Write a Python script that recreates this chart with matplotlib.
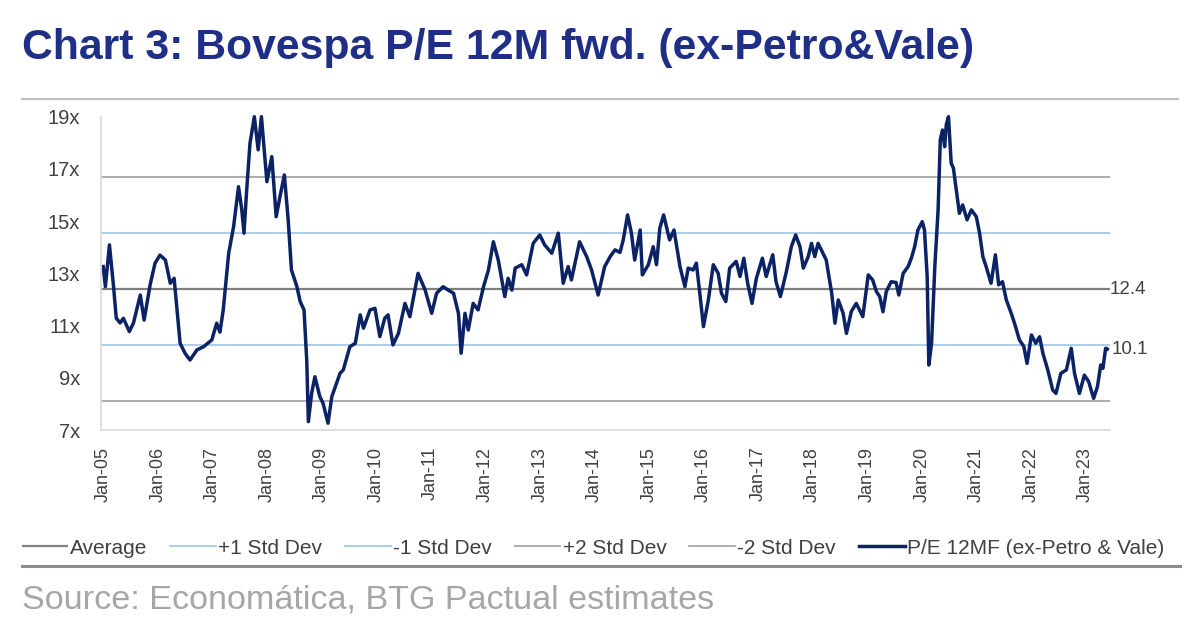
import matplotlib
matplotlib.use("Agg")
import matplotlib.pyplot as plt
from matplotlib.lines import Line2D

plt.rcParams['font.family'] = ['Liberation Sans', 'DejaVu Sans']

# ---- data (years since Jan-2005, P/E value) ----
years = [0.00, 0.04, 0.115, 0.19, 0.24, 0.31, 0.37, 0.48, 0.555, 0.68, 0.75, 0.86, 0.95,
         1.04, 1.14, 1.23, 1.30, 1.41, 1.50, 1.59, 1.72, 1.84, 1.99,
         2.08, 2.14, 2.20, 2.30, 2.39, 2.48, 2.54, 2.58, 2.63, 2.69, 2.77, 2.84, 2.90,
         3.00, 3.09, 3.17, 3.24, 3.32, 3.39, 3.45, 3.55, 3.61, 3.68, 3.73, 3.76, 3.82, 3.88, 3.97,
         4.03, 4.12, 4.19, 4.34, 4.40, 4.52, 4.62, 4.71, 4.77, 4.89, 4.98,
         5.07, 5.16, 5.22, 5.31, 5.41, 5.53, 5.62, 5.77, 5.90,
         6.02, 6.11, 6.23, 6.32, 6.42, 6.51, 6.56, 6.63, 6.69, 6.78, 6.87, 6.97,
         7.06, 7.15, 7.24, 7.36, 7.42, 7.49, 7.55, 7.67, 7.76, 7.88,
         8.00, 8.09, 8.22, 8.34, 8.43, 8.52, 8.58, 8.73, 8.86, 8.95,
         9.07, 9.19, 9.29, 9.38, 9.47, 9.53, 9.61, 9.68, 9.74, 9.84, 9.88, 9.99,
         10.08, 10.14, 10.20, 10.27, 10.38, 10.46, 10.57, 10.66, 10.72, 10.81, 10.87, 10.93,
         11.00, 11.09, 11.18, 11.27, 11.33, 11.41, 11.48, 11.60, 11.67, 11.74, 11.81, 11.89, 11.97,
         12.08, 12.15, 12.27, 12.33, 12.41, 12.52, 12.61, 12.69, 12.77, 12.83, 12.92, 12.98,
         13.04, 13.10, 13.16, 13.25, 13.35, 13.41, 13.47, 13.56, 13.62, 13.71, 13.80, 13.86, 13.92,
         14.02, 14.10, 14.17, 14.23, 14.29, 14.35, 14.44, 14.53, 14.58, 14.66, 14.75, 14.81, 14.87, 14.93,
         15.01, 15.05, 15.10, 15.13, 15.18, 15.24, 15.30, 15.34, 15.38, 15.42, 15.45, 15.49, 15.54,
         15.58, 15.64, 15.69, 15.75, 15.83, 15.91,
         16.00, 16.06, 16.12, 16.18, 16.27, 16.35, 16.41, 16.48, 16.55, 16.63, 16.70, 16.79, 16.87, 16.93,
         17.01, 17.09, 17.16, 17.22, 17.31, 17.40, 17.46, 17.55, 17.65, 17.74, 17.80, 17.89, 17.98,
         18.06, 18.15, 18.22, 18.28, 18.32, 18.37, 18.40]
pe_values = [13.26, 12.49, 14.09, 12.49, 11.28, 11.10, 11.28, 10.77, 11.10, 12.17, 11.21, 12.56, 13.39,
             13.70, 13.51, 12.62, 12.81, 10.32, 9.94, 9.68, 10.07, 10.19, 10.45,
             11.09, 10.75, 11.60, 13.77, 14.79, 16.32, 15.43, 14.54, 16.20, 17.98, 19.00, 17.73, 19.00,
             16.51, 17.47, 15.17, 15.94, 16.77, 15.05, 13.13, 12.49, 11.92, 11.60, 9.68, 7.32, 8.41, 9.04, 8.28,
             8.02, 7.26, 8.28, 9.17, 9.30, 10.19, 10.32, 11.41, 10.90, 11.60, 11.66,
             10.58, 11.28, 11.41, 10.26, 10.70, 11.85, 11.34, 13.00, 12.36,
             11.47, 12.24, 12.49, 12.36, 12.24, 11.47, 9.94, 11.47, 10.83, 11.85, 11.60, 12.49,
             13.13, 14.21, 13.51, 12.11, 12.81, 12.36, 13.20, 13.33, 12.94, 14.15,
             14.47, 14.09, 13.77, 14.54, 12.62, 13.26, 12.75, 14.21, 13.64, 13.13,
             12.17, 13.26, 13.64, 13.90, 13.80, 14.28, 15.24, 14.54, 13.51, 14.66, 12.94, 13.33,
             14.02, 13.33, 14.73, 15.24, 14.28, 14.66, 13.26, 12.49, 13.20, 13.13, 13.39, 12.30,
             10.96, 11.98, 13.33, 13.00, 12.24, 11.92, 13.20, 13.46, 12.88, 13.58, 12.62, 11.85, 12.81,
             13.58, 12.88, 13.71, 12.68, 12.11, 13.07, 14.02, 14.47, 14.02, 13.20, 13.64, 14.15,
             13.64, 14.15, 13.90, 13.51, 12.24, 11.09, 11.98, 11.47, 10.70, 11.54, 11.85, 11.60, 11.34,
             12.94, 12.75, 12.30, 12.11, 11.53, 12.30, 12.68, 12.65, 12.17, 13.00, 13.26, 13.58, 14.02, 14.66,
             14.98, 14.66, 12.87, 9.49, 10.32, 13.26, 15.43, 18.11, 18.49, 17.85, 18.69, 19.00, 17.22,
             17.03, 16.07, 15.30, 15.62, 15.05, 15.43,
             15.17, 14.54, 13.64, 13.26, 12.62, 13.71, 12.56, 12.68, 11.98, 11.53, 11.09, 10.45, 10.20, 9.55,
             10.64, 10.32, 10.57, 9.94, 9.30, 8.53, 8.40, 9.17, 9.30, 10.13, 9.17, 8.40, 9.10,
             8.85, 8.21, 8.66, 9.49, 9.36, 10.13, 10.10]

average = 12.4
std_dev = 2.14
last_label = "10.1"
avg_label = "12.4"

tick_years = list(range(0, 19))
tick_labels = ["Jan-%02d" % (5 + i) for i in tick_years]
y_ticks = [7, 9, 11, 13, 15, 17, 19]
y_tick_labels = ["%dx" % v for v in y_ticks]

title = "Chart 3: Bovespa P/E 12M fwd. (ex-Petro&Vale)"
source = "Source: Economática, BTG Pactual estimates"
legend_labels = ["Average", "+1 Std Dev", "-1 Std Dev", "+2 Std Dev", "-2 Std Dev",
                 "P/E 12MF (ex-Petro & Vale)"]

# ---- figure ----
W, H = 1204, 642
fig = plt.figure(figsize=(W / 100, H / 100), dpi=100)
ax = fig.add_axes([101 / W, 1 - 430 / H, (1110 - 101) / W, (430 - 116.7) / H])

x0, x1 = -0.04, 18.45
navy = "#0b2265"
blue_light = "#9dc3e6"
gray_mid = "#7f7f7f"
gray_light = "#a6a6a6"
txt = "#404040"

h_avg, = ax.plot([x0, x1], [average] * 2, color=gray_mid, lw=1.6, solid_capstyle='butt')
h_p1, = ax.plot([x0, x1], [average + std_dev] * 2, color=blue_light, lw=1.2)
h_m1, = ax.plot([x0, x1], [average - std_dev] * 2, color=blue_light, lw=1.2)
h_p2, = ax.plot([x0, x1], [average + 2 * std_dev] * 2, color=gray_light, lw=1.3)
h_m2, = ax.plot([x0, x1], [average - 2 * std_dev] * 2, color=gray_light, lw=1.3)
h_pe, = ax.plot(years, pe_values, color=navy, lw=2.5, clip_on=False, solid_joinstyle='round')

ax.set_xlim(x0, x1)
ax.set_ylim(7, 19)
ax.set_xticks(tick_years)
ax.set_xticklabels(tick_labels, rotation=90, fontsize=13, color=txt)
ax.set_yticks(y_ticks)
ax.set_yticklabels(y_tick_labels, fontsize=14.5, color=txt)
ax.tick_params(axis='both', length=0)
ax.tick_params(axis='y', pad=15)
ax.tick_params(axis='x', pad=12)
for s in ['top', 'right']:
    ax.spines[s].set_visible(False)
for s in ['left', 'bottom']:
    ax.spines[s].set_color('#d9d9d9')
    ax.spines[s].set_linewidth(1.2)

ax.text(x1, average, avg_label, fontsize=13.5, color=txt, va='center', ha='left')
ax.text(years[-1] + 0.08, pe_values[-1], last_label, fontsize=13.5, color=txt, va='center', ha='left')

fig.text(22 / W, 1 - 48 / H, title, fontsize=30.8, fontweight='bold', color='#1f2f86',
         ha='left', va='center')
fig.add_artist(Line2D([22 / W, 1178 / W], [1 - 99 / H] * 2, color='#c0c0c0', lw=1.6))
fig.add_artist(Line2D([22 / W, 1180 / W], [1 - 566 / H] * 2, color='#8c8c8c', lw=2.2))
fig.text(22 / W, 1 - 600 / H, source, fontsize=24.6, color='#a6a6a6', ha='left', va='center')

fig.legend([h_avg, h_p1, h_m1, h_p2, h_m2, h_pe], legend_labels, ncol=6, frameon=False,
           loc='center', bbox_to_anchor=(593 / W, 1 - 548 / H), fontsize=15,
           handlelength=2.2, handletextpad=0.1, columnspacing=1.1, labelcolor=txt)

fig.savefig("out.png", dpi=100)
